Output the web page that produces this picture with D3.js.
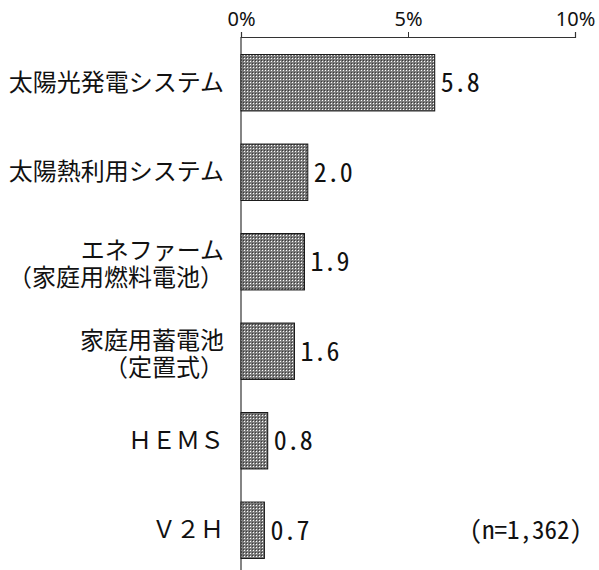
<!DOCTYPE html>
<html>
<head>
<meta charset="utf-8">
<script src="https://cdn.jsdelivr.net/npm/d3@7.9.0/dist/d3.min.js"></script>
<style>
  html, body { margin: 0; padding: 0; background: #fff; }
  svg { display: block; }
  .cat { font-family: "Noto Sans CJK JP", sans-serif; font-size: 24px; fill: #111; }
  .val { font-family: "Noto Sans Mono CJK JP", "DejaVu Sans Mono", monospace; font-size: 26px; fill: #111; }
  .tick text { font-family: "Noto Sans", sans-serif; font-size: 20px; fill: #111; }
</style>
</head>
<body>
<svg id="chart" width="599" height="570"></svg>
<script>
// values in %, top to bottom
const categories = ['solar_pv', 'solar_thermal', 'enefarm', 'battery', 'hems', 'v2h'];
const labels = [
  ['太陽光発電システム'],
  ['太陽熱利用システム'],
  ['エネファーム', '（家庭用燃料電池）'],
  ['家庭用蓄電池', '（定置式）'],
  ['ＨＥＭＳ'],
  ['Ｖ２Ｈ']
];
const values = [5.8, 2.0, 1.9, 1.6, 0.8, 0.7];
const tickValues = [0, 5, 10];
const note = '(n=1,362)';

const data = categories.map((c, i) => ({ key: c, label: labels[i], value: values[i] }));

const svg = d3.select('#chart');

// dotted fill like the original
const defs = svg.append('defs');
const pat = defs.append('pattern')
  .attr('id', 'dots')
  .attr('patternUnits', 'userSpaceOnUse')
  .attr('width', 3).attr('height', 3);
pat.append('rect').attr('width', 3).attr('height', 3).attr('fill', '#7c7c7c');
pat.append('rect').attr('x', 1).attr('y', 1).attr('width', 1).attr('height', 1).attr('fill', '#fff');
pat.append('rect').attr('x', 0).attr('y', 0).attr('width', 1).attr('height', 1).attr('fill', '#3a3a3a');

const x = d3.scaleLinear().domain([0, 10]).range([241, 575]);
const y = d3.scaleBand()
  .domain(categories)
  .range([38, 575])
  .paddingInner(0.37)
  .paddingOuter(0.185);

// top axis
const axisY = 37;
const axis = svg.append('g')
  .attr('transform', `translate(0,${axisY})`)
  .call(d3.axisTop(x).tickValues(tickValues).tickSize(5).tickPadding(6).tickFormat(d => d + '%'));
axis.select('.domain').attr('stroke', '#333').attr('stroke-width', 1.2);
axis.selectAll('.tick line').attr('stroke', '#333');

// vertical baseline
svg.append('line')
  .attr('x1', x(0)).attr('x2', x(0))
  .attr('y1', axisY).attr('y2', 570)
  .attr('stroke', '#333').attr('stroke-width', 1.2);

// bars
svg.selectAll('rect.bar')
  .data(data)
  .join('rect')
  .attr('class', 'bar')
  .attr('x', x(0))
  .attr('y', d => y(d.key))
  .attr('width', d => x(d.value) - x(0))
  .attr('height', y.bandwidth())
  .attr('fill', 'url(#dots)')
  .attr('stroke', '#111')
  .attr('stroke-width', 1);

// value labels
svg.selectAll('text.val')
  .data(data)
  .join('text')
  .attr('class', 'val')
  .attr('x', d => x(d.value) + 6)
  .attr('y', d => y(d.key) + y.bandwidth() / 2)
  .attr('dy', '0.36em')
  .text(d => d.value.toFixed(1));

// category labels, one tspan per line
const lineGap = 27;
svg.selectAll('text.cat')
  .data(data)
  .join('text')
  .attr('class', 'cat')
  .attr('text-anchor', 'end')
  .attr('y', d => y(d.key) + y.bandwidth() / 2 + (d.label.length > 1 ? 3 : 0))
  .each(function (d) {
    const n = d.label.length;
    d3.select(this).selectAll('tspan')
      .data(d.label)
      .join('tspan')
      .attr('x', 224)
      .attr('dy', (t, i) => i === 0 ? 8 - (n - 1) / 2 * lineGap : lineGap)
      .text(t => t);
  });

// sample size note
svg.append('text')
  .attr('class', 'val')
  .attr('x', 582)
  .attr('y', y('v2h') + y.bandwidth() / 2)
  .attr('dy', '0.36em')
  .attr('text-anchor', 'end')
  .style('font-size', '25px')
  .text(note);
</script>
</body>
</html>
